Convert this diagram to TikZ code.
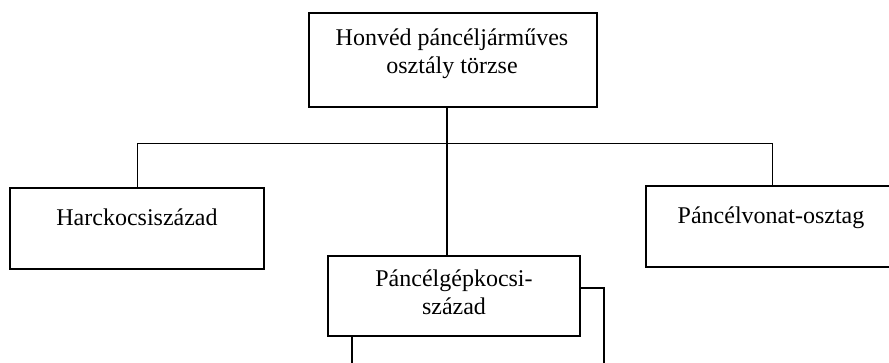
\documentclass[tikz,border=0pt]{standalone}
\usepackage{fontspec}
\setmainfont{Liberation Serif}
\usetikzlibrary{positioning}

\begin{document}
\begin{tikzpicture}[x=1pt, y=-1pt, unitbox/.style={rectangle, draw, line width=1.6pt, fill=white, inner sep=0pt, anchor=north west}, unittext/.style={font=\fontsize{24}{28}\selectfont, align=center, inner sep=0pt}, connector/.style={line width=1pt}]
\useasboundingbox (0,0) rectangle (889,362);
% boxes
\node [unitbox, minimum width=288pt, minimum height=94pt] (torzs) at (308,12) {};
\node [unitbox, minimum width=254pt, minimum height=81pt] (harc) at (9,187) {};
\node [unitbox, minimum width=246pt, minimum height=81pt] (vonat) at (645,185) {};
\node [unitbox, minimum width=252pt, minimum height=100pt] (hatso) at (351,287) {};
\node [unitbox, minimum width=252pt, minimum height=80pt] (gep) at (327,255) {};
% texts
\node [unittext, anchor=north] (torzs-t) at (452,29) {Honvéd páncéljárműves\\osztály törzse};
\node [unittext, anchor=base] (harc-t) at (137,225) {Harckocsiszázad};
\node [unittext, anchor=base] (vonat-t) at (771,223) {Páncélvonat-osztag};
\node [unittext, anchor=north] (gep-t) at (454,270) {Páncélgépkocsi-\\század};
% lines
\coordinate (elo) at (447,143);
\coordinate (bal) at (137,143);
\coordinate (jobb) at (772,143);
\draw [connector] (bal) -- (jobb);
\draw [connector] (bal) -- (bal |- harc.north);
\draw [connector] (jobb) -- (jobb |- vonat.north);
\draw [line width=1.5pt] (elo |- torzs.south) -- (elo |- gep.north);
\end{tikzpicture}
\end{document}
